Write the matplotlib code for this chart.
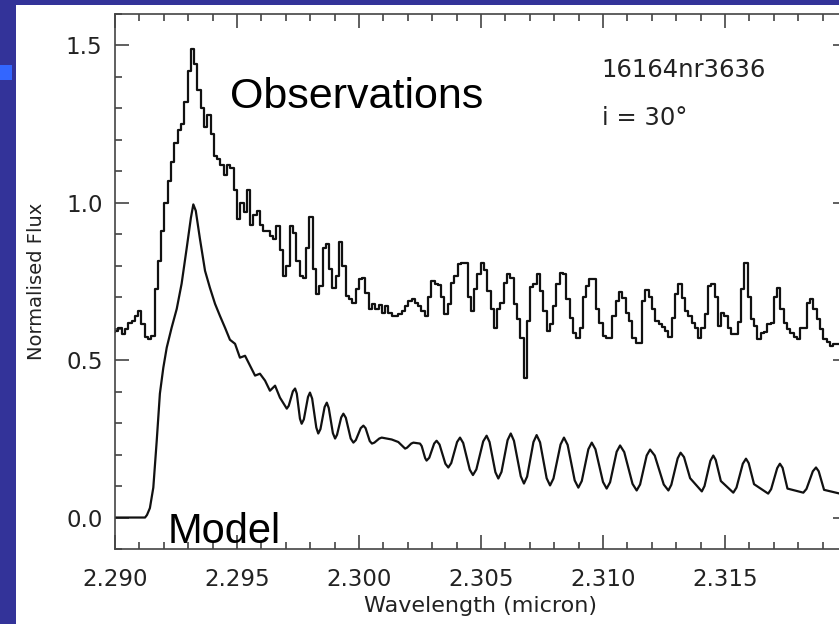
import numpy as np
import matplotlib
matplotlib.use('Agg')
import matplotlib.pyplot as plt
from matplotlib.patches import Rectangle

# observed spectrum: regular bins starting at obs_start
obs_start = 2.2898
obs_step = 0.000135
obs_flux = [
    0.59, 0.59, 0.594, 0.603, 0.584, 0.60, 0.619, 0.625, 0.641, 0.657,
    0.615, 0.575, 0.568, 0.578, 0.727, 0.816, 0.911, 1.0, 1.07, 1.13,
    1.19, 1.23, 1.25, 1.32, 1.42, 1.49, 1.44, 1.36, 1.30, 1.24,
    1.28, 1.22, 1.15, 1.14, 1.12, 1.09, 1.12, 1.11, 1.04, 0.95,
    1.0, 0.97, 1.04, 0.93, 0.96, 0.975, 0.93, 0.91, 0.91, 0.895,
    0.885, 0.927, 0.85, 0.768, 0.80, 0.927, 0.905, 0.816, 0.768, 0.762,
    0.857, 0.955, 0.79, 0.711, 0.737, 0.857, 0.87, 0.79, 0.73, 0.768,
    0.876, 0.80, 0.705, 0.695, 0.683, 0.727, 0.759, 0.762, 0.714, 0.663,
    0.679, 0.663, 0.676, 0.651, 0.673, 0.651, 0.641, 0.641, 0.648, 0.657,
    0.673, 0.689, 0.695, 0.683, 0.673, 0.657, 0.641, 0.70, 0.752, 0.743,
    0.74, 0.70, 0.648, 0.679, 0.746, 0.768, 0.806, 0.81, 0.81, 0.70,
    0.657, 0.727, 0.775, 0.81, 0.787, 0.72, 0.663, 0.603, 0.663, 0.683,
    0.746, 0.775, 0.762, 0.679, 0.632, 0.571, 0.444, 0.625, 0.733, 0.743,
    0.775, 0.72, 0.657, 0.594, 0.616, 0.673, 0.743, 0.778, 0.775, 0.695,
    0.635, 0.587, 0.571, 0.603, 0.70, 0.737, 0.759, 0.759, 0.663, 0.619,
    0.578, 0.571, 0.571, 0.641, 0.689, 0.717, 0.698, 0.651, 0.625, 0.571,
    0.556, 0.556, 0.689, 0.724, 0.70, 0.663, 0.625, 0.616, 0.606, 0.594,
    0.575, 0.635, 0.711, 0.743, 0.698, 0.657, 0.641, 0.619, 0.603, 0.571,
    0.603, 0.648, 0.737, 0.743, 0.70, 0.61, 0.651, 0.641, 0.603, 0.584,
    0.584, 0.622, 0.727, 0.81, 0.70, 0.632, 0.61, 0.568, 0.587, 0.59,
    0.616, 0.619, 0.70, 0.73, 0.663, 0.619, 0.60, 0.587, 0.575, 0.568,
    0.603, 0.603, 0.683, 0.695, 0.663, 0.632, 0.60, 0.568, 0.559, 0.546,
    0.552, 0.552, 0.55,
]
obs_wave = obs_start + obs_step * np.arange(len(obs_flux))

# model line (wavelength, flux)
model_wave = [
    2.28980, 2.29123, 2.29131, 2.29143, 2.29157, 2.29171, 2.29184, 2.29198,
    2.29212, 2.29232, 2.29253, 2.29273, 2.29294, 2.29311, 2.29321, 2.29331,
    2.29348, 2.29369, 2.29389, 2.29410, 2.29430, 2.29451, 2.29471, 2.29492,
    2.29512, 2.29533, 2.29553, 2.29574, 2.29594, 2.29615, 2.29635, 2.29656,
    2.29676, 2.29704, 2.29712, 2.29729, 2.29738, 2.29745, 2.29758, 2.29765,
    2.29774, 2.29791, 2.29799, 2.29808, 2.29825, 2.29833, 2.29842, 2.29859,
    2.29868, 2.29876, 2.29893, 2.29902, 2.29910, 2.29927, 2.29936, 2.29946,
    2.29966, 2.29977, 2.29987, 2.30007, 2.30018, 2.30027, 2.30044, 2.30053,
    2.30063, 2.30083, 2.30093, 2.30134, 2.30161, 2.30189, 2.30197, 2.30214,
    2.30223, 2.30250, 2.30257, 2.30271, 2.30277, 2.30288, 2.30308, 2.30318,
    2.30330, 2.30354, 2.30366, 2.30378, 2.30402, 2.30414, 2.30427, 2.30454,
    2.30467, 2.30481, 2.30509, 2.30523, 2.30535, 2.30559, 2.30571, 2.30584,
    2.30609, 2.30622, 2.30635, 2.30663, 2.30676, 2.30689, 2.30715, 2.30728,
    2.30742, 2.30769, 2.30783, 2.30797, 2.30826, 2.30840, 2.30855, 2.30884,
    2.30899, 2.30913, 2.30940, 2.30954, 2.30969, 2.31000, 2.31015, 2.31029,
    2.31056, 2.31070, 2.31087, 2.31121, 2.31138, 2.31152, 2.31179, 2.31193,
    2.31212, 2.31249, 2.31268, 2.31280, 2.31306, 2.31318, 2.31332, 2.31357,
    2.31405, 2.31416, 2.31440, 2.31452, 2.31462, 2.31483, 2.31534, 2.31547,
    2.31573, 2.31586, 2.31597, 2.31619, 2.31677, 2.31689, 2.31714, 2.31725,
    2.31736, 2.31756, 2.31821, 2.31834, 2.31860, 2.31873, 2.31884, 2.31906,
    2.31971,
]
model_flux = [
    0.0, 0.0, 0.008, 0.03, 0.095, 0.244, 0.394, 0.476,
    0.54, 0.603, 0.663, 0.743, 0.857, 0.952, 0.995, 0.975,
    0.886, 0.784, 0.73, 0.679, 0.641, 0.603, 0.565, 0.552,
    0.508, 0.514, 0.483, 0.451, 0.457, 0.435, 0.403, 0.419,
    0.381, 0.346, 0.355, 0.401, 0.41, 0.394, 0.314, 0.298,
    0.312, 0.383, 0.397, 0.378, 0.286, 0.267, 0.281, 0.351,
    0.365, 0.348, 0.268, 0.251, 0.263, 0.318, 0.33, 0.317,
    0.251, 0.238, 0.246, 0.284, 0.292, 0.284, 0.243, 0.235,
    0.238, 0.251, 0.254, 0.248, 0.24, 0.219, 0.222, 0.235,
    0.238, 0.235, 0.227, 0.189, 0.181, 0.19, 0.235, 0.244,
    0.232, 0.171, 0.159, 0.173, 0.24, 0.254, 0.237, 0.152,
    0.135, 0.153, 0.242, 0.26, 0.24, 0.144, 0.124, 0.145,
    0.246, 0.267, 0.244, 0.131, 0.108, 0.13, 0.24, 0.262,
    0.239, 0.125, 0.102, 0.124, 0.232, 0.254, 0.231, 0.118,
    0.095, 0.116, 0.217, 0.238, 0.217, 0.113, 0.092, 0.112,
    0.209, 0.229, 0.208, 0.107, 0.086, 0.105, 0.197, 0.216,
    0.197, 0.105, 0.086, 0.104, 0.188, 0.206, 0.192, 0.125,
    0.083, 0.10, 0.18, 0.197, 0.183, 0.116, 0.079, 0.095,
    0.171, 0.187, 0.173, 0.106, 0.076, 0.09, 0.157, 0.171,
    0.158, 0.092, 0.079, 0.091, 0.147, 0.159, 0.147, 0.088,
    0.076,
]

xticks = [2.290, 2.295, 2.300, 2.305, 2.310, 2.315]
yticks = [0.0, 0.5, 1.0, 1.5]

W, H = 839, 624
fig = plt.figure(figsize=(W / 100, H / 100), dpi=100)
fig.patch.set_facecolor('#333399')

# slide background: white panel + small bullet square
bg = fig.add_axes([0, 0, 1, 1], zorder=0)
bg.axis('off')
bg.set_xlim(0, W)
bg.set_ylim(H, 0)
bg.add_patch(Rectangle((16, 5), W, H, facecolor='white', edgecolor='none'))
bg.add_patch(Rectangle((0, 65), 12, 15, facecolor='#3366ff', edgecolor='none'))

ax = fig.add_axes([115 / W, 1 - 549 / H, 732 / W, 535 / H], zorder=2)
ax.set_facecolor('white')

ax.plot(obs_wave, obs_flux, drawstyle='steps-mid', color='#111111', lw=1.6)
ax.plot(model_wave, model_flux, color='#111111', lw=1.6)

ax.set_xlim(2.290, 2.320)
ax.set_ylim(-0.1, 1.6)
ax.set_xticks(xticks)
ax.set_xticklabels(['%.3f' % t for t in xticks])
ax.set_yticks(yticks)
ax.set_yticklabels(['%.1f' % t for t in yticks])
ax.set_xticks(np.arange(2.290, 2.3205, 0.001), minor=True)
ax.set_yticks(np.arange(-0.1, 1.61, 0.1), minor=True)
ax.tick_params(which='both', direction='in', top=True, right=True, color='#444444', width=1.2)
ax.tick_params(which='major', length=10, labelsize=16.5, labelcolor='#222222', pad=9)
ax.tick_params(which='minor', length=5)
ax.tick_params(axis='x', pad=14)
for s in ax.spines.values():
    s.set_color('#444444')
    s.set_linewidth(1.2)

ax.set_xlabel('Wavelength (micron)', fontsize=16, color='#222222', labelpad=3)
ax.set_ylabel('Normalised Flux', fontsize=14, color='#222222', labelpad=14)

ax.text(0.157, 0.824, 'Observations', transform=ax.transAxes, fontsize=31,
        family='Liberation Sans', va='baseline')
ax.text(0.0724, 0.011, 'Model', transform=ax.transAxes, fontsize=30,
        family='Liberation Sans', va='baseline')
ax.text(0.665, 0.882, '16164nr3636', transform=ax.transAxes, fontsize=17.5,
        color='#222222', va='baseline')
ax.text(0.665, 0.793, 'i = 30°', transform=ax.transAxes, fontsize=17.5,
        color='#222222', va='baseline')

fig.savefig('out.png', dpi=100, facecolor=fig.get_facecolor())
